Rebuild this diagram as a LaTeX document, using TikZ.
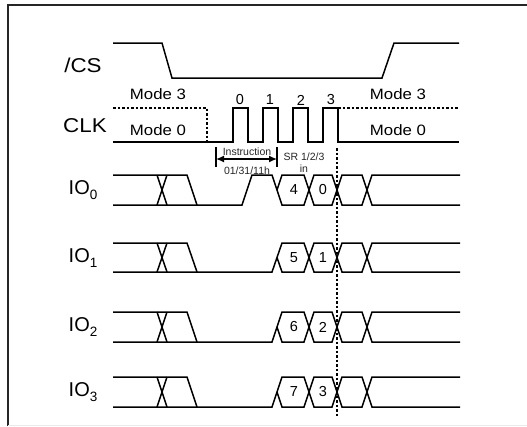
\documentclass[tikz,border=0pt]{standalone}
\usepackage{fontspec}
\setmainfont{Liberation Sans}
\usetikzlibrary{arrows.meta}
\tikzset{
  sig/.style={line width=1.5pt, line join=miter},
  dotsig/.style={line width=1.5pt, dash pattern=on 2.5pt off 2pt},
  framel/.style={line width=1.6pt, black!85},
  biglabel/.style={font=\fontsize{20}{22}\selectfont, inner sep=0pt},
  modelabel/.style={font=\fontsize{15}{17}\selectfont, inner sep=0pt},
  digit/.style={font=\fontsize{14.5}{16}\selectfont, inner sep=0pt},
  smalltxt/.style={font=\fontsize{10.5}{12}\selectfont, inner sep=0pt, black!85}
}
\newcommand{\iolab}[1]{IO\raisebox{-0.28em}{\fontsize{13.5}{14}\selectfont #1}}
\newcommand{\wide}[1]{\scalebox{1.12}[1]{#1}}
\begin{document}
\begin{tikzpicture}[x=1pt,y=-1pt]
\useasboundingbox (0,0) rectangle (527,426);
% frame
\draw[framel] (8,426) -- (8,5) -- (527,5);
\draw[black!8, line width=0.8pt] (8,425) -- (527,425);

% labels
\node[biglabel] (cs) at (83,65) {\wide{/CS}};
\node[biglabel] (clk) at (85,126) {\wide{CLK}};
\node[biglabel] (io0) at (83,190) {\iolab{0}};
\node[biglabel] (io1) at (83,258) {\iolab{1}};
\node[biglabel] (io2) at (83,327) {\iolab{2}};
\node[biglabel] (io3) at (83,392) {\iolab{3}};

% /CS
\draw[sig] (113,43) -- (162,43) -- (172,78) -- (382,78) -- (394,43) -- (459,43);

% CLK
\draw[dotsig] (113,108) -- (207,108) -- (207,142);
\draw[dotsig] (338,108) -- (459,108);
\draw[sig] (113,142) -- (233,142) -- (233,108) -- (248,108) -- (248,142)
  -- (263,142) -- (263,108) -- (278,108) -- (278,142)
  -- (293,142) -- (293,108) -- (308,108) -- (308,142)
  -- (323,142) -- (323,108) -- (338,108) -- (338,142) -- (459,142);
\node[modelabel] (m3l) at (158,94) {\wide{Mode 3}};
\node[modelabel] (m0l) at (158,130) {\wide{Mode 0}};
\node[modelabel] (m3r) at (398,94) {\wide{Mode 3}};
\node[modelabel] (m0r) at (398,130) {\wide{Mode 0}};
\node[digit] (c0) at (240,100) {0};
\node[digit] (c1) at (270,100) {1};
\node[digit] (c2) at (301,100) {2};
\node[digit] (c3) at (331,100) {3};

% instruction arrow
\coordinate (ia) at (216,159);
\coordinate (ib) at (277,159);
\draw[line width=1.6pt] (216,147) -- (216,167);
\draw[line width=1.6pt] (277,147) -- (277,167);
\draw[line width=1.4pt, {Latex[length=8pt,width=7pt]}-{Latex[length=8pt,width=7pt]}] (ia) -- (ib);
\node[smalltxt] (instr) at (247,152) {Instruction};
\node[smalltxt] (instc) at (247,171) {01/31/11h};
\node[smalltxt] (sr) at (304,157) {SR 1/2/3};
\node[smalltxt] (srin) at (304,169) {in};

% dotted vertical
\draw[dotsig] (337,148) -- (337,417);

% IO0
\def\T{175}\def\B{205}\def\M{190}
\draw[sig] (113,\T) -- (187,\T) -- (197,\B);
\draw[sig] (157,\T) -- (167,\B);
\draw[sig] (157,\B) -- (167,\T);
\draw[sig] (113,\B) -- (242,\B) -- (252,\T) -- (272,\T) -- (282,\B) -- (304,\B) -- (314,\T) -- (332,\T) -- (342,\B) -- (362,\B) -- (372,\T) -- (460,\T);
\draw[sig] (277,\M) -- (282,\T) -- (304,\T) -- (314,\B) -- (332,\B) -- (342,\T) -- (362,\T) -- (372,\B) -- (460,\B);
\node[digit] (d4) at (294,\M) {4};
\node[digit] (d0) at (323,\M) {0};

% IO1..IO3
\foreach \T/\B/\a/\b/\n in {243/272/5/1/1, 312/342/6/2/2, 377/407/7/3/3}{
  \pgfmathsetmacro{\M}{(\T+\B)/2}
  \draw[sig] (113,\T) -- (187,\T) -- (197,\B);
  \draw[sig] (157,\T) -- (167,\B);
  \draw[sig] (157,\B) -- (167,\T);
  \draw[sig] (113,\B) -- (272,\B) -- (282,\T) -- (304,\T) -- (314,\B) -- (332,\B) -- (342,\T) -- (362,\T) -- (372,\B) -- (460,\B);
  \draw[sig] (277,\M) -- (282,\B) -- (304,\B) -- (314,\T) -- (332,\T) -- (342,\B) -- (362,\B) -- (372,\T) -- (460,\T);
  \node[digit] (da\n) at (294,\M) {\a};
  \node[digit] (db\n) at (323,\M) {\b};
}
\end{tikzpicture}
\end{document}
